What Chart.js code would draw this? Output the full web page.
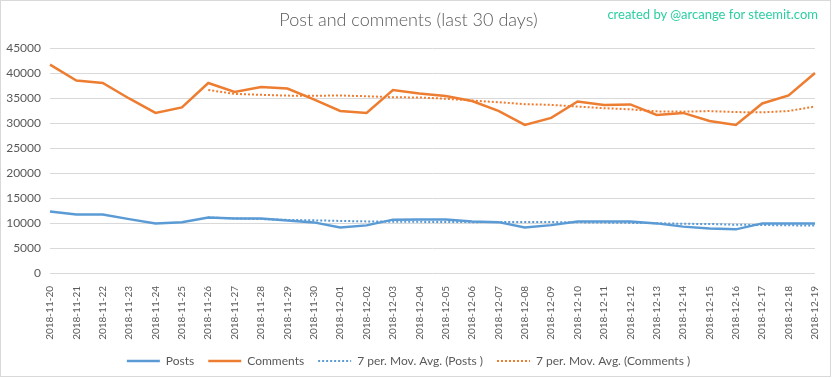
<!DOCTYPE html>
<html>
<head>
<meta charset="utf-8">
<script src="https://cdn.jsdelivr.net/npm/chart.js@4.4.1/dist/chart.umd.min.js"></script>
<style>
  html, body { margin: 0; padding: 0; background: #fff; }
  #wrap { position: relative; width: 832px; height: 378px; }
  #wm { position: absolute; right: 14px; top: 6px; font-family: Lato, sans-serif; font-size: 13px; color: #2BCFA2; white-space: nowrap; }
</style>
</head>
<body>
<div id="wrap">
  <canvas id="c" width="832" height="378"></canvas>
  <div id="wm">created by @arcange for steemit.com</div>
</div>
<script>
const categories = ["2018-11-20","2018-11-21","2018-11-22","2018-11-23","2018-11-24","2018-11-25","2018-11-26","2018-11-27","2018-11-28","2018-11-29","2018-11-30","2018-12-01","2018-12-02","2018-12-03","2018-12-04","2018-12-05","2018-12-06","2018-12-07","2018-12-08","2018-12-09","2018-12-10","2018-12-11","2018-12-12","2018-12-13","2018-12-14","2018-12-15","2018-12-16","2018-12-17","2018-12-18","2018-12-19"];
const posts = [12350,11750,11750,10800,9950,10200,11150,10950,10950,10550,10150,9150,9550,10700,10750,10750,10350,10200,9150,9600,10350,10350,10350,9950,9300,8900,8750,9950,9950,9950];
const comments = [41800,38600,38100,35000,32100,33200,38100,36300,37300,37000,34800,32500,32100,36700,36000,35500,34500,32500,29700,31100,34400,33700,33800,31700,32100,30500,29700,34000,35600,40100];
const postsMA = [null,null,null,null,null,null,11136,10936,10821,10650,10557,10443,10350,10286,10257,10229,10200,10207,10207,10214,10164,10107,10050,9993,9864,9829,9679,9621,9564,9507];
const commentsMA = [null,null,null,null,null,null,36700,35914,35729,35571,35543,35600,35443,35243,35200,34943,34586,34257,33857,33714,33386,33057,32814,32414,32357,32471,32271,32214,32486,33386];
const yTicks = [0,5000,10000,15000,20000,25000,30000,35000,40000,45000];

const BLUE = '#5B9BD5', ORANGE = '#ED7D31', GREY = '#595959', GRID = '#D9D9D9';
const FONT = 'Lato, "Open Sans", sans-serif';

const borderPlugin = {
  id: 'outerBorder',
  afterDraw(chart) {
    const ctx = chart.ctx;
    ctx.save();
    ctx.strokeStyle = GRID;
    ctx.lineWidth = 1;
    ctx.strokeRect(0.5, 0.5, 830, 376);
    ctx.restore();
  }
};

new Chart(document.getElementById('c'), {
  type: 'line',
  data: {
    labels: categories,
    datasets: [
      { label: 'Posts', data: posts, borderColor: BLUE, backgroundColor: BLUE, borderWidth: 2.5, pointRadius: 0, pointStyle: 'line', tension: 0, order: 3 },
      { label: 'Comments', data: comments, borderColor: ORANGE, backgroundColor: ORANGE, borderWidth: 2.5, pointRadius: 0, pointStyle: 'line', tension: 0, order: 4 },
      { label: '7 per. Mov. Avg. (Posts )', data: postsMA, borderColor: BLUE, backgroundColor: BLUE, borderWidth: 2, borderDash: [2,2], pointRadius: 0, pointStyle: 'line', tension: 0, order: 1 },
      { label: '7 per. Mov. Avg. (Comments )', data: commentsMA, borderColor: ORANGE, backgroundColor: ORANGE, borderWidth: 2, borderDash: [2,2], pointRadius: 0, pointStyle: 'line', tension: 0, order: 2 }
    ]
  },
  options: {
    responsive: false,
    animation: false,
    layout: { padding: { left: 0, right: 15, top: 0, bottom: 1 } },
    plugins: {
      title: {
        display: true,
        text: 'Post and comments (last 30 days)',
        color: GREY,
        font: { family: FONT, size: 18, weight: '300' },
        padding: { top: 9, bottom: 18 }
      },
      legend: {
        position: 'bottom',
        labels: {
          color: GREY,
          font: { family: FONT, size: 12 },
          usePointStyle: true,
          pointStyleWidth: 33,
          boxHeight: 12,
          padding: 14,
          sort: (a, b) => a.datasetIndex - b.datasetIndex,
          generateLabels(chart) {
            return chart.data.datasets.map((ds, i) => ({
              text: ds.label,
              datasetIndex: i,
              fillStyle: ds.borderColor,
              strokeStyle: ds.borderColor,
              lineWidth: ds.borderWidth,
              lineDash: ds.borderDash || [],
              pointStyle: 'line',
              fontColor: GREY,
              hidden: false
            }));
          }
        }
      },
      tooltip: { enabled: false }
    },
    scales: {
      x: {
        grid: { display: false },
        border: { display: false },
        ticks: { color: GREY, font: { family: FONT, size: 10 }, minRotation: 90, maxRotation: 90, autoSkip: false, padding: 5 },
        afterFit(scale) { scale.height = 68; }
      },
      y: {
        min: 0, max: 45000,
        afterBuildTicks(scale) { scale.ticks = yTicks.map(v => ({ value: v })); },
        grid: { color: GRID, lineWidth: 1, drawTicks: false },
        border: { display: false },
        ticks: { color: GREY, font: { family: FONT, size: 12 }, padding: 9, callback: v => String(v) },
        afterFit(scale) { scale.width = 50; }
      }
    }
  },
  plugins: [borderPlugin]
});
</script>
</body>
</html>
